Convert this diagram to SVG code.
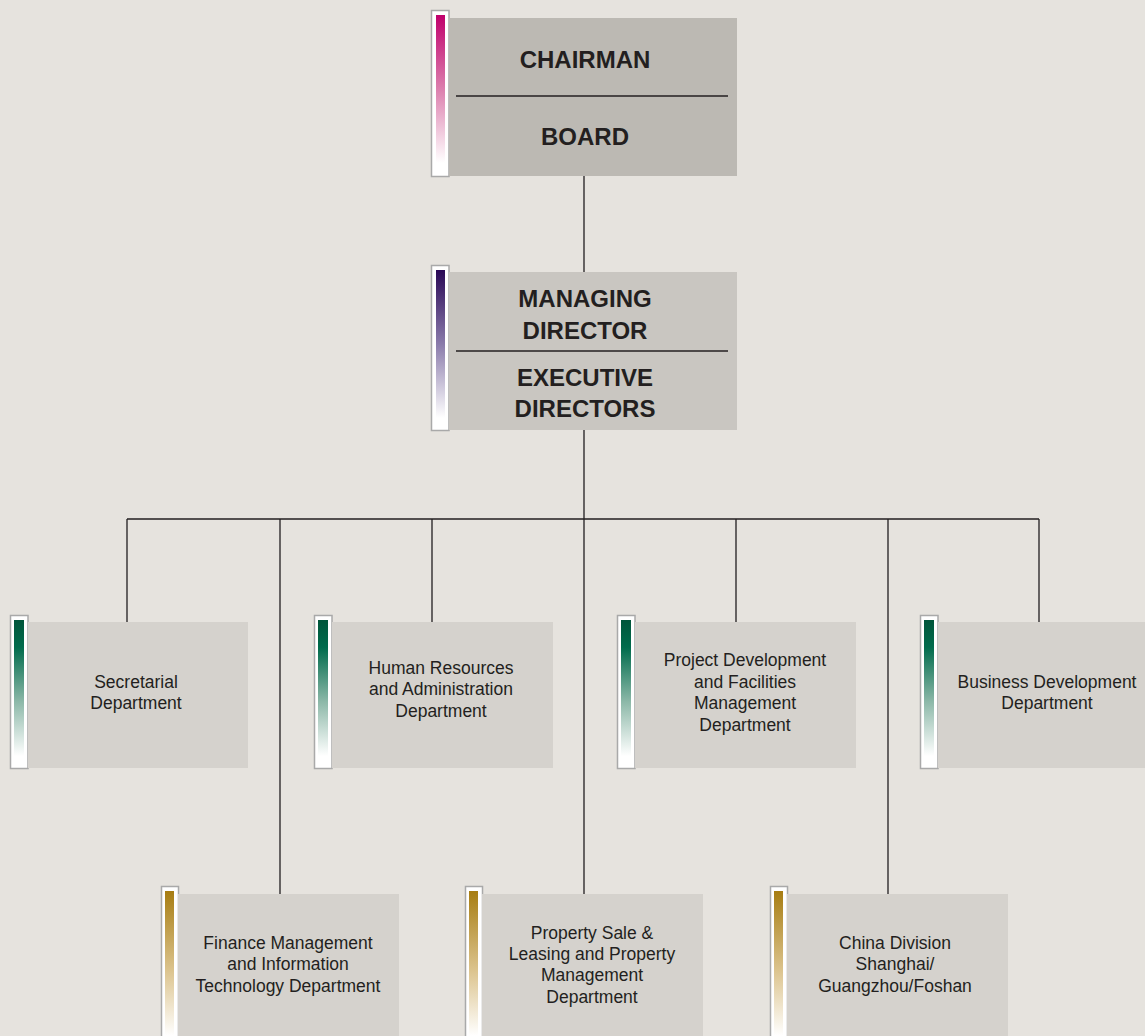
<svg xmlns="http://www.w3.org/2000/svg" width="1145" height="1036" viewBox="0 0 1145 1036">
<defs>
<linearGradient id="gMag" x1="0" y1="0" x2="0" y2="1"><stop offset="0" stop-color="#c0006c"/><stop offset="0.5" stop-color="#dc7fae"/><stop offset="1" stop-color="#ffffff"/></linearGradient>
<linearGradient id="gPur" x1="0" y1="0" x2="0" y2="1"><stop offset="0" stop-color="#2a0856"/><stop offset="0.5" stop-color="#8a7bab"/><stop offset="1" stop-color="#ffffff"/></linearGradient>
<linearGradient id="gGrn" x1="0" y1="0" x2="0" y2="1"><stop offset="0" stop-color="#00553a"/><stop offset="0.2" stop-color="#006b4c"/><stop offset="0.6" stop-color="#8cb8a8"/><stop offset="1" stop-color="#ffffff"/></linearGradient>
<linearGradient id="gGld" x1="0" y1="0" x2="0" y2="1"><stop offset="0" stop-color="#a77d12"/><stop offset="0.55" stop-color="#dcc48e"/><stop offset="1" stop-color="#ffffff"/></linearGradient>
</defs>
<style>
.bar{fill:#ffffff;stroke:#a9a9a9;stroke-width:1.5}
.top{fill:#bcb9b3}
.mid{fill:#c9c6c1}
.dep{fill:#d5d2cd}
.div{stroke:#231f20;stroke-width:1.3}
.conn{stroke:#231f20;stroke-width:1.3;fill:none}
.h{font-family:"Liberation Sans",Arial,sans-serif;font-weight:bold;font-size:24px;fill:#231f20;text-anchor:middle}
.t{font-family:"Liberation Sans",Arial,sans-serif;font-size:17.5px;fill:#231f20;text-anchor:middle}
</style>
<rect width="1145" height="1036" fill="#e6e3de"/>
<g id="connectors">
<path class="conn" d="M584 176V272M584 430V519M127 519H1039M127 519V622M280 519V894M432 519V622M584 519V894M736 519V622M888 519V894M1039 519V622"/>
</g>
<g id="chairman">
<rect class="bar" x="431.5" y="10.5" width="17.5" height="166"/>
<rect x="436" y="15" width="9" height="148" fill="url(#gMag)"/>
<rect class="top" x="449" y="18" width="288" height="158"/>
<line class="div" x1="456" y1="96" x2="728" y2="96"/>
<text class="h" x="585" y="68">CHAIRMAN</text>
<text class="h" x="585" y="145">BOARD</text>
</g>
<g id="md">
<rect class="bar" x="431.5" y="265.5" width="17.5" height="165"/>
<rect x="436" y="270" width="9" height="148" fill="url(#gPur)"/>
<rect class="mid" x="449" y="272" width="288" height="158"/>
<line class="div" x1="456" y1="351" x2="728" y2="351"/>
<text class="h" x="585" y="307">MANAGING</text>
<text class="h" x="585" y="339">DIRECTOR</text>
<text class="h" x="585" y="386">EXECUTIVE</text>
<text class="h" x="585" y="417">DIRECTORS</text>
</g>
<g id="secretarial">
<rect class="bar" x="10.5" y="615.5" width="17.5" height="153"/>
<rect x="14" y="620" width="10" height="136" fill="url(#gGrn)"/>
<rect class="dep" x="28" y="622" width="220" height="146"/>
<text class="t" x="136" y="688">Secretarial</text>
<text class="t" x="136" y="709">Department</text>
</g>
<g id="hr">
<rect class="bar" x="314.5" y="615.5" width="17.5" height="153"/>
<rect x="318" y="620" width="10" height="136" fill="url(#gGrn)"/>
<rect class="dep" x="332" y="622" width="221" height="146"/>
<text class="t" x="441" y="674">Human Resources</text>
<text class="t" x="441" y="695">and Administration</text>
<text class="t" x="441" y="717">Department</text>
</g>
<g id="project">
<rect class="bar" x="617.5" y="615.5" width="17.5" height="153"/>
<rect x="621" y="620" width="10" height="136" fill="url(#gGrn)"/>
<rect class="dep" x="635" y="622" width="221" height="146"/>
<text class="t" x="745" y="666">Project Development</text>
<text class="t" x="745" y="688">and Facilities</text>
<text class="t" x="745" y="709">Management</text>
<text class="t" x="745" y="731">Department</text>
</g>
<g id="business">
<rect class="bar" x="920.5" y="615.5" width="17.5" height="153"/>
<rect x="924" y="620" width="10" height="136" fill="url(#gGrn)"/>
<rect class="dep" x="938" y="622" width="221" height="146"/>
<text class="t" x="1047" y="688">Business Development</text>
<text class="t" x="1047" y="709">Department</text>
</g>
<g id="finance">
<rect class="bar" x="161.5" y="886.5" width="17" height="152"/>
<rect x="165" y="891" width="9" height="145" fill="url(#gGld)"/>
<rect class="dep" x="178" y="894" width="221" height="142"/>
<text class="t" x="288" y="949">Finance Management</text>
<text class="t" x="288" y="970">and Information</text>
<text class="t" x="288" y="992">Technology Department</text>
</g>
<g id="property">
<rect class="bar" x="465.5" y="886.5" width="17" height="152"/>
<rect x="469" y="891" width="9" height="145" fill="url(#gGld)"/>
<rect class="dep" x="482" y="894" width="221" height="142"/>
<text class="t" x="592" y="939">Property Sale &amp;</text>
<text class="t" x="592" y="960">Leasing and Property</text>
<text class="t" x="592" y="981">Management</text>
<text class="t" x="592" y="1003">Department</text>
</g>
<g id="china">
<rect class="bar" x="770.5" y="886.5" width="17" height="152"/>
<rect x="774" y="891" width="9" height="145" fill="url(#gGld)"/>
<rect class="dep" x="787" y="894" width="221" height="142"/>
<text class="t" x="895" y="949">China Division</text>
<text class="t" x="895" y="970">Shanghai/</text>
<text class="t" x="895" y="992">Guangzhou/Foshan</text>
</g>
</svg>
